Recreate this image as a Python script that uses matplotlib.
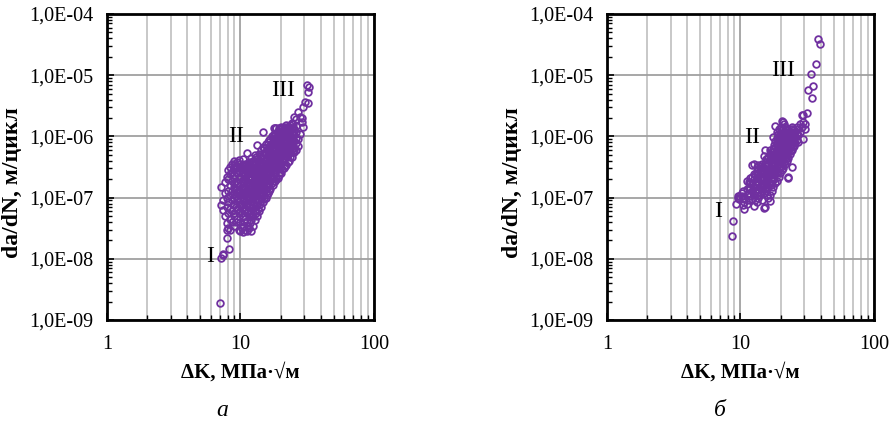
import matplotlib
matplotlib.use('Agg')
import matplotlib.pyplot as plt
import numpy as np
from matplotlib.ticker import FixedLocator, FuncFormatter, LogLocator, NullFormatter

plt.rcParams['font.family'] = ['Liberation Serif', 'DejaVu Serif']

# ---------------- data ----------------
x_ticks = [1, 10, 100]
y_ticks = [1e-9, 1e-8, 1e-7, 1e-6, 1e-5, 1e-4]

# Panel "а": ΔK columns and da/dN values in units of 1e-7 m/cycle
K_a = [7.0, 7.2, 7.4, 7.6, 7.9, 8.1, 8.2, 8.4, 8.7, 9.0, 9.4, 9.7, 10.0, 10.4, 10.8,
       11.1, 11.5, 12.0, 12.5, 12.8, 13.3, 13.8, 14.3, 14.8, 15.4, 16.0, 16.6, 17.2,
       17.9, 18.6, 19.4, 20.2, 21.0, 22.0, 23.0, 24.3, 25.2, 26.0, 27.0, 27.9, 28.8,
       29.2, 30.4, 31.3, 31.9, 32.6,
       8.9, 9.2, 10.2, 10.6, 11.3, 11.8, 12.2, 13.0, 13.5, 14.0, 15.1, 15.7, 16.3,
       17.5, 18.2, 19.0, 19.8, 20.6, 21.5, 22.5, 23.6, 24.8]
dadn_a_e7 = [
    [0.019],
    [0.76, 1.5, 0.105],
    [0.63, 0.9, 0.115, 0.12],
    [1.8, 1.2, 0.5],
    [0.22, 0.38, 0.3, 0.7, 1.0, 2.2],
    [0.32, 0.55, 0.85, 1.3, 2.0, 2.8],
    [0.145],
    [0.3, 0.45, 0.65, 1.1, 1.6, 2.4, 3.2],
    [0.4, 0.6, 0.9, 1.3, 1.9, 2.6, 3.6],
    [0.35, 0.5, 0.75, 1.0, 1.5, 2.1, 2.9, 3.4, 4.0],
    [0.45, 0.65, 0.95, 1.2, 1.7, 2.5, 3.0, 3.8],
    [0.3, 0.55, 0.8, 1.1, 1.4, 2.0, 2.7, 4.1],
    [0.28, 0.4, 0.6, 0.9, 1.25, 1.6, 2.2, 3.1, 3.5],
    [0.27, 0.35, 0.5, 0.7, 1.0, 1.4, 1.9, 2.6, 3.3, 4.2],
    [0.3, 0.45, 0.65, 0.85, 1.15, 1.5, 2.0, 2.8, 3.6],
    [0.28, 0.4, 0.55, 0.8, 1.05, 1.35, 1.8, 2.4, 3.0, 5.4],
    [0.32, 0.5, 0.7, 0.95, 1.3, 1.7, 2.2, 3.0, 3.8],
    [0.28, 0.43, 0.6, 0.85, 1.1, 1.5, 2.0, 2.6, 3.3, 4.5],
    [0.35, 0.5, 0.75, 1.0, 1.35, 1.8, 2.4, 3.1, 4.0],
    [0.43, 0.63, 0.9, 1.2, 1.6, 2.1, 2.8, 3.6, 5.0],
    [0.5, 0.75, 1.05, 1.4, 1.9, 2.5, 3.2, 4.3, 7.2],
    [0.6, 0.9, 1.2, 1.6, 2.2, 2.9, 3.8, 5.2],
    [0.7, 1.0, 1.4, 1.9, 2.5, 3.3, 4.4, 6.0],
    [0.85, 1.2, 1.6, 2.2, 2.9, 3.7, 5.0, 6.8, 12.0],
    [1.0, 1.4, 1.9, 2.5, 3.3, 4.3, 5.6, 7.5],
    [1.2, 1.6, 2.2, 2.9, 3.7, 4.8, 6.3, 8.2],
    [1.4, 1.9, 2.5, 3.3, 4.2, 5.5, 7.0, 9.0],
    [1.7, 2.2, 2.9, 3.7, 4.8, 6.2, 7.8, 10.0],
    [1.9, 2.6, 3.3, 4.2, 5.4, 6.8, 8.6, 11.0, 13.7],
    [2.0, 2.8, 3.6, 4.6, 5.9, 7.5, 9.5, 13.5],
    [2.3, 3.3, 4.2, 5.3, 6.6, 8.3, 10.5, 13.7],
    [2.5, 3.6, 4.6, 5.8, 7.2, 9.0, 11.5, 14.0],
    [3.0, 4.1, 5.1, 6.4, 8.0, 10.0, 12.5, 13.7],
    [3.4, 4.7, 5.8, 7.2, 8.8, 11.0, 13.5, 15.4],
    [4.0, 5.3, 6.5, 8.0, 9.8, 12.0, 14.5],
    [4.6, 6.2, 7.5, 9.2, 11.2, 13.5, 16.6],
    [5.5, 6.5, 8.5, 10.5, 13.0, 21.0],
    [6.0, 7.9, 9.5, 12.0, 15.0, 19.0],
    [7.0, 9.0, 25.0],
    [11.0, 21.0],
    [17.4, 20.0],
    [14.4, 30.5],
    [36.5],
    [69.0],
    [54.0, 35.0],
    [64.0],
    [0.55, 0.8, 1.15, 1.7, 2.3, 3.0],
    [0.4, 0.7, 1.05, 1.35, 1.9, 2.6, 3.3],
    [0.32, 0.55, 0.8, 1.1, 1.45, 1.9, 2.5, 3.0],
    [0.4, 0.6, 0.9, 1.25, 1.7, 2.3, 3.1],
    [0.35, 0.6, 0.9, 1.2, 1.55, 2.0, 2.7, 3.4],
    [0.38, 0.55, 0.8, 1.2, 1.6, 2.0, 2.8, 3.5],
    [0.5, 0.7, 1.0, 1.3, 1.7, 2.2, 2.9, 3.8],
    [0.55, 0.85, 1.15, 1.5, 2.0, 2.7, 3.5, 4.6],
    [0.65, 0.95, 1.3, 1.75, 2.3, 3.0, 4.0],
    [0.8, 1.1, 1.5, 2.0, 2.7, 3.5, 4.8],
    [0.95, 1.3, 1.8, 2.4, 3.1, 4.0, 5.3, 6.5],
    [1.1, 1.5, 2.0, 2.7, 3.5, 4.5, 6.0],
    [1.3, 1.75, 2.4, 3.1, 4.0, 5.2, 6.7, 8.6],
    [1.6, 2.1, 2.8, 3.6, 4.6, 6.0, 7.5, 9.5],
    [1.9, 2.5, 3.2, 4.1, 5.2, 6.6, 8.3, 10.5, 13.8],
    [2.1, 2.9, 3.8, 4.9, 6.2, 7.8, 9.8, 12.2],
    [2.6, 3.4, 4.4, 5.5, 7.0, 8.7, 11.0, 13.0],
    [2.9, 3.9, 4.9, 6.1, 7.6, 9.5, 12.0],
    [3.3, 4.4, 5.5, 6.8, 8.4, 10.5, 13.0, 14.5],
    [3.8, 5.0, 6.2, 7.6, 9.3, 11.5, 14.0],
    [4.6, 5.8, 7.0, 8.6, 10.5, 12.8, 15.5],
    [5.6, 7.0, 8.7, 11.0, 13.5, 16.0],
]

# Panel "б"
K_b = [8.7, 8.85, 9.25, 9.5, 9.8, 10.2, 10.5, 10.6, 11.1, 11.5, 12.1, 12.6, 13.2,
       13.6, 14.0, 14.5, 15.0, 15.3, 15.8, 16.1, 16.6, 17.1, 17.6, 18.1, 18.7, 19.3,
       19.9, 20.4, 20.9, 21.6, 22.3, 22.8, 23.5, 24.2, 24.9, 25.7, 26.3, 27.1, 27.9,
       28.7, 29.6, 30.4, 31.4, 32.2, 33.6, 34.2, 35.2, 36.6, 38.3, 39.4,
       11.8, 12.9, 14.2, 15.5, 16.9, 17.9, 19.0, 20.1, 21.2, 22.0, 23.9, 25.3]
dadn_b_e7 = [
    [0.235],
    [0.41],
    [0.79],
    [1.05, 1.0],
    [1.06, 0.95],
    [1.05, 1.2],
    [0.77, 1.0, 1.3],
    [0.65, 0.85],
    [0.8, 1.1, 1.4, 1.9],
    [0.9, 1.2, 1.5, 1.8],
    [0.95, 1.3, 1.7, 2.2, 3.35],
    [0.72, 1.1, 1.5, 2.0, 2.45, 3.6],
    [0.85, 1.2, 1.6, 2.1, 2.7, 3.2],
    [1.0, 1.4, 1.8, 2.4, 3.4],
    [1.1, 1.5, 2.0, 2.6, 3.1],
    [0.9, 1.3, 1.7, 2.2, 2.8, 3.5],
    [0.68, 1.2, 1.6, 2.0, 2.5, 3.0, 4.7],
    [0.7, 1.4, 1.8, 2.3, 2.9, 3.6, 5.9],
    [1.1, 1.6, 2.1, 2.6, 3.3, 4.2],
    [1.0, 1.5, 2.0, 2.7, 3.5, 4.6],
    [0.89, 1.12, 1.7, 2.3, 3.0, 3.9, 5.0, 5.9],
    [1.3, 1.9, 2.5, 3.3, 4.3, 5.5],
    [1.5, 2.1, 2.8, 3.7, 4.8, 6.2, 9.8],
    [1.7, 2.4, 3.1, 4.1, 5.3, 6.8, 8.5, 15.0],
    [1.9, 2.6, 3.5, 4.6, 5.9, 7.5, 9.3, 12.0],
    [2.2, 3.0, 3.9, 5.1, 6.5, 8.2, 10.3, 13.0],
    [2.5, 3.3, 4.3, 5.6, 7.1, 9.0, 11.2],
    [2.8, 3.7, 4.8, 6.2, 7.8, 9.8, 12.5, 18.0],
    [3.0, 4.1, 5.3, 6.8, 8.5, 10.7, 13.5, 17.0],
    [3.5, 4.6, 5.9, 7.5, 9.3, 11.5, 14.0],
    [4.0, 5.2, 6.6, 8.2, 10.0, 12.5],
    [2.15, 2.1, 4.5, 5.8, 7.3, 9.0, 11.0],
    [5.2, 6.6, 8.2, 10.0, 12.0],
    [3.2, 6.0, 7.5, 9.3, 11.5, 14.0],
    [6.8, 8.5, 10.5, 13.0],
    [7.8, 9.6, 11.8],
    [8.8, 11.0, 14.0],
    [8.1, 10.5, 13.0],
    [12.0, 16.0],
    [14.0, 22.0],
    [9.1, 17.0, 22.6],
    [13.3, 16.0],
    [24.0],
    [57.0],
    [104.0],
    [43.0],
    [66.0],
    [155.0],
    [385.0],
    [320.0],
    [1.05, 1.4, 1.7, 2.1],
    [0.9, 1.3, 1.8, 2.3],
    [1.2, 1.6, 2.1, 2.8, 3.3],
    [1.3, 1.7, 2.2, 2.7, 3.4, 4.2],
    [1.6, 2.1, 2.8, 3.6, 4.6],
    [2.0, 2.7, 3.5, 4.5, 5.8, 7.2],
    [2.6, 3.4, 4.4, 5.6, 7.0, 8.8, 11.0],
    [3.2, 4.2, 5.3, 6.6, 8.3, 10.2, 14.0],
    [3.8, 5.0, 6.3, 7.9, 9.8, 12.0, 16.0],
    [4.5, 5.6, 7.0, 8.8, 10.8, 13.0],
    [5.8, 7.2, 8.8, 10.8, 13.0],
    [7.0, 8.8, 10.8, 12.5],
]

stage_labels = ['I', 'II', 'III']
stage_K_a = [5.9, 9.25, 20.8]
stage_v_a = [1.1e-8, 9.8e-7, 5.7e-6]
stage_K_b = [6.8, 12.2, 20.8]
stage_v_b = [5.9e-8, 9.6e-7, 1.2e-5]

xlabel = 'ΔK, МПа·√м'
ylabel = 'da/dN, м/цикл'
panel_letters = ['а', 'б']

# ---------------- plotting ----------------
color = '#7030A0'
W, H = 895, 425
fig = plt.figure(figsize=(W / 100, H / 100), dpi=100)


def fmt_y(v, pos):
    e = int(round(np.log10(v)))
    return f"1,0E-{-e:02d}"


def panel(left_px, K_cols, v_cols, sK, sv, letter, letter_x):
    ax = fig.add_axes([left_px / W, 1 - 320 / H, 267 / W, 306 / H])
    ax.set_xscale('log')
    ax.set_yscale('log')
    ax.set_xlim(1, 100)
    ax.set_ylim(1e-9, 1e-4)
    ax.xaxis.set_major_locator(FixedLocator(x_ticks))
    ax.xaxis.set_minor_locator(LogLocator(base=10, subs=range(2, 10)))
    ax.xaxis.set_major_formatter(FuncFormatter(lambda v, p: f"{v:g}"))
    ax.xaxis.set_minor_formatter(NullFormatter())
    ax.yaxis.set_major_locator(FixedLocator(y_ticks))
    ax.yaxis.set_minor_locator(LogLocator(base=10, subs=range(2, 10)))
    ax.yaxis.set_major_formatter(FuncFormatter(fmt_y))
    ax.yaxis.set_minor_formatter(NullFormatter())
    ax.grid(which='major', color='#a0a0a0', lw=1.3)
    ax.grid(which='minor', axis='x', color='#c4c4c4', lw=1.3)
    ax.set_axisbelow(True)
    for s in ax.spines.values():
        s.set_linewidth(2.0)
        s.set_color('black')
    ax.tick_params(which='both', direction='in', top=False, right=False,
                   labelsize=14.5, color='black')
    ax.tick_params(axis='y', which='both', pad=9.5)
    ax.tick_params(axis='x', which='both', pad=11)
    ax.tick_params(which='major', length=5, width=1.2)
    ax.tick_params(which='minor', length=3.5, width=1.0)

    for K, vs in zip(K_cols, v_cols):
        ax.plot([K] * len(vs), [v * 1e-7 for v in vs], ls='none', marker='o',
                ms=4.8, mfc='none', mec=color, mew=1.3, zorder=3)

    for t, k, v in zip(stage_labels, sK, sv):
        ax.text(k, v, t, fontsize=17, ha='center', va='center', zorder=4)

    ax.set_xlabel(xlabel, fontsize=15, fontweight='bold')
    ax.xaxis.set_label_coords(0.5, -0.14)
    ax.set_ylabel(ylabel, fontsize=17, fontweight='bold')
    ax.yaxis.set_label_coords(-0.315, 0.45)
    fig.text(letter_x / W, 1 - 410 / H, letter, fontsize=17, style='italic',
             ha='center', va='center')
    return ax


panel(107, K_a, dadn_a_e7, stage_K_a, stage_v_a, panel_letters[0], 222)
panel(607, K_b, dadn_b_e7, stage_K_b, stage_v_b, panel_letters[1], 720)

fig.savefig('out.png', dpi=100)
